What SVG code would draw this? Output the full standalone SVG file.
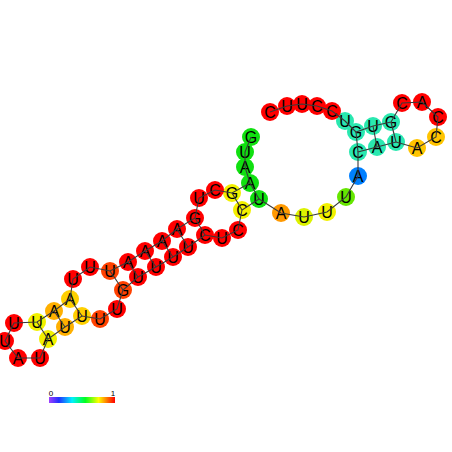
<svg xmlns="http://www.w3.org/2000/svg" width="452" height="452" viewBox="0 0 452 452">
<defs>
<style>
.n circle{r:9px;stroke:none}
.n text{font-family:"Liberation Sans",Arial,sans-serif;font-size:16px;text-anchor:middle;fill:#000}
.bb{fill:none;stroke:#3a3a3a;stroke-width:1.1}
.pr{stroke:#3a3a3a;stroke-width:1.1}
.lbl{font-family:"Liberation Sans",Arial,sans-serif;font-size:8px;text-anchor:middle;fill:#000}
.R{fill:#ff0000}.OR{fill:#ff4200}.O{fill:#ff9900}.AM{fill:#ffc400}.GO{fill:#ffd000}.OY{fill:#ffb000}.Y{fill:#f2f000}.YG{fill:#dcf200}.LG{fill:#66e600}.G{fill:#10e010}.C{fill:#2ae8b0}.B{fill:#0080ff}
</style>
<linearGradient id="cb" x1="0" y1="0" x2="1" y2="0">
<stop offset="0" stop-color="#a040ff"/>
<stop offset="0.15" stop-color="#2030ff"/>
<stop offset="0.35" stop-color="#00f0ff"/>
<stop offset="0.55" stop-color="#00ff20"/>
<stop offset="0.75" stop-color="#ffff00"/>
<stop offset="0.9" stop-color="#ff6000"/>
<stop offset="1" stop-color="#ff0000"/>
</linearGradient>
</defs>
<rect width="452" height="452" fill="#fff"/>
<g id="nodes">
<g id="n1" class="n"><circle class="G" cx="251" cy="137"/><text x="251" y="143">G</text></g>
<g id="n2" class="n"><circle class="G" cx="245" cy="152"/><text x="245" y="158">U</text></g>
<g id="n3" class="n"><circle class="G" cx="245" cy="167"/><text x="245" y="173">A</text></g>
<g id="n4" class="n"><circle class="G" cx="250" cy="183"/><text x="250" y="189">A</text></g>
<g id="n5" class="n"><circle class="Y" cx="232" cy="193"/><text x="232" y="199">G</text></g>
<g id="n6" class="n"><circle class="R" cx="215" cy="190"/><text x="215" y="196">C</text></g>
<g id="n7" class="n"><circle class="R" cx="199" cy="198"/><text x="199" y="204">U</text></g>
<g id="n8" class="n"><circle class="R" cx="195" cy="218"/><text x="195" y="224">G</text></g>
<g id="n9" class="n"><circle class="R" cx="177" cy="229"/><text x="177" y="235">A</text></g>
<g id="n10" class="n"><circle class="R" cx="162" cy="241"/><text x="162" y="247">A</text></g>
<g id="n11" class="n"><circle class="R" cx="145" cy="251"/><text x="145" y="257">A</text></g>
<g id="n12" class="n"><circle class="R" cx="128" cy="262"/><text x="128" y="268">A</text></g>
<g id="n13" class="n"><circle class="OR" cx="110" cy="271"/><text x="110" y="277">U</text></g>
<g id="n14" class="n"><circle class="R" cx="90" cy="267"/><text x="90" y="273">U</text></g>
<g id="n15" class="n"><circle class="R" cx="73" cy="279"/><text x="73" y="285">U</text></g>
<g id="n16" class="n"><circle class="GO" cx="70" cy="299"/><text x="70" y="305">A</text></g>
<g id="n17" class="n"><circle class="OY" cx="54" cy="311"/><text x="54" y="317">A</text></g>
<g id="n18" class="n"><circle class="Y" cx="37" cy="322"/><text x="37" y="328">U</text></g>
<g id="n19" class="n"><circle class="R" cx="14" cy="323"/><text x="14" y="329">U</text></g>
<g id="n20" class="n"><circle class="R" cx="5" cy="341"/><text x="5" y="347">U</text></g>
<g id="n21" class="n"><circle class="R" cx="18" cy="358"/><text x="18" y="364">A</text></g>
<g id="n22" class="n"><circle class="R" cx="40" cy="358"/><text x="40" y="364">U</text></g>
<g id="n23" class="n"><circle class="Y" cx="48" cy="339"/><text x="48" y="345">A</text></g>
<g id="n24" class="n"><circle class="OY" cx="65" cy="327"/><text x="65" y="333">U</text></g>
<g id="n25" class="n"><circle class="GO" cx="82" cy="316"/><text x="82" y="322">U</text></g>
<g id="n26" class="n"><circle class="OR" cx="100" cy="319"/><text x="100" y="325">U</text></g>
<g id="n27" class="n"><circle class="R" cx="117" cy="309"/><text x="117" y="315">U</text></g>
<g id="n28" class="n"><circle class="OR" cx="123" cy="290"/><text x="123" y="296">G</text></g>
<g id="n29" class="n"><circle class="R" cx="138" cy="277"/><text x="138" y="283">U</text></g>
<g id="n30" class="n"><circle class="R" cx="156" cy="267"/><text x="156" y="273">U</text></g>
<g id="n31" class="n"><circle class="R" cx="173" cy="257"/><text x="173" y="263">U</text></g>
<g id="n32" class="n"><circle class="R" cx="188" cy="247"/><text x="188" y="253">U</text></g>
<g id="n33" class="n"><circle class="R" cx="205" cy="235"/><text x="205" y="241">C</text></g>
<g id="n34" class="n"><circle class="R" cx="222" cy="238"/><text x="222" y="244">U</text></g>
<g id="n35" class="n"><circle class="R" cx="238" cy="230"/><text x="238" y="236">C</text></g>
<g id="n36" class="n"><circle class="Y" cx="242" cy="210"/><text x="242" y="216">C</text></g>
<g id="n37" class="n"><circle class="G" cx="259" cy="199"/><text x="259" y="205">U</text></g>
<g id="n38" class="n"><circle class="O" cx="281" cy="213"/><text x="281" y="219">A</text></g>
<g id="n39" class="n"><circle class="YG" cx="304" cy="217"/><text x="304" y="223">U</text></g>
<g id="n40" class="n"><circle class="Y" cx="327" cy="212"/><text x="327" y="218">U</text></g>
<g id="n41" class="n"><circle class="LG" cx="346" cy="197"/><text x="346" y="203">U</text></g>
<g id="n42" class="n"><circle class="B" cx="358" cy="176"/><text x="358" y="182">A</text></g>
<g id="n43" class="n"><circle class="C" cx="358" cy="152"/><text x="358" y="158">C</text></g>
<g id="n44" class="n"><circle class="C" cx="377" cy="147"/><text x="377" y="153">A</text></g>
<g id="n45" class="n"><circle class="C" cx="396" cy="142"/><text x="396" y="148">U</text></g>
<g id="n46" class="n"><circle class="AM" cx="417" cy="148"/><text x="417" y="154">A</text></g>
<g id="n47" class="n"><circle class="AM" cx="436" cy="137"/><text x="436" y="143">C</text></g>
<g id="n48" class="n"><circle class="R" cx="438" cy="117"/><text x="438" y="123">C</text></g>
<g id="n49" class="n"><circle class="R" cx="422" cy="102"/><text x="422" y="108">A</text></g>
<g id="n50" class="n"><circle class="R" cx="402" cy="103"/><text x="402" y="109">C</text></g>
<g id="n51" class="n"><circle class="C" cx="391" cy="122"/><text x="391" y="128">G</text></g>
<g id="n52" class="n"><circle class="C" cx="373" cy="126"/><text x="373" y="132">U</text></g>
<g id="n53" class="n"><circle class="C" cx="356" cy="132"/><text x="356" y="138">G</text></g>
<g id="n54" class="n"><circle class="C" cx="345" cy="121"/><text x="345" y="127">U</text></g>
<g id="n55" class="n"><circle class="R" cx="332" cy="111"/><text x="332" y="117">C</text></g>
<g id="n56" class="n"><circle class="R" cx="317" cy="106"/><text x="317" y="112">C</text></g>
<g id="n57" class="n"><circle class="R" cx="302" cy="104"/><text x="302" y="110">U</text></g>
<g id="n58" class="n"><circle class="R" cx="287" cy="106"/><text x="287" y="112">U</text></g>
<g id="n59" class="n"><circle class="R" cx="270" cy="112"/><text x="270" y="118">C</text></g>
</g>
<g id="connectors">
<polyline class="bb" points="251,137 245,152 245,167 250,183 232,193 215,190 199,198 195,218 177,229 162,241 145,251 128,262 110,271 90,267 73,279 70,299 54,311 37,322 14,323 5,341 18,358 40,358 48,339 65,327 82,316 100,319 117,309 123,290 138,277 156,267 173,257 188,247 205,235 222,238 238,230 242,210 259,199 281,213 304,217 327,212 346,197 358,176 358,152 377,147 396,142 417,148 436,137 438,117 422,102 402,103 391,122 373,126 356,132 345,121 332,111 317,106 302,104 287,106 270,112"/>
<line class="pr" x1="250" y1="183" x2="259" y2="199"/>
<line class="pr" x1="232" y1="193" x2="242" y2="210"/>
<line class="pr" x1="195" y1="218" x2="205" y2="235"/>
<line class="pr" x1="177" y1="229" x2="188" y2="247"/>
<line class="pr" x1="162" y1="241" x2="173" y2="257"/>
<line class="pr" x1="145" y1="251" x2="156" y2="267"/>
<line class="pr" x1="128" y1="262" x2="138" y2="277"/>
<line class="pr" x1="110" y1="271" x2="123" y2="290"/>
<line class="pr" x1="70" y1="299" x2="82" y2="316"/>
<line class="pr" x1="54" y1="311" x2="65" y2="327"/>
<line class="pr" x1="37" y1="322" x2="48" y2="339"/>
<line class="pr" x1="358" y1="152" x2="356" y2="132"/>
<line class="pr" x1="377" y1="147" x2="373" y2="126"/>
<line class="pr" x1="396" y1="142" x2="391" y2="122"/>
</g>
<g id="colorbar">
<rect x="49" y="397" width="66" height="6" fill="url(#cb)"/>
<text class="lbl" x="51" y="396">0</text>
<text class="lbl" x="113" y="396">1</text>
</g>
</svg>
